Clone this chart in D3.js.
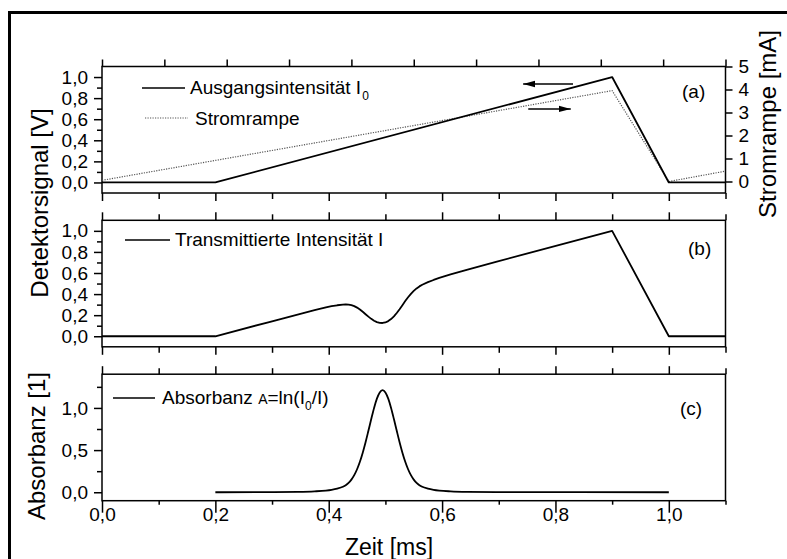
<!DOCTYPE html>
<html>
<head>
<meta charset="utf-8">
<script src="https://cdn.jsdelivr.net/npm/d3@7"></script>
<style>
  body { margin: 0; background: #fff; }
  svg { display: block; font-family: "Liberation Sans", Arial, sans-serif; }
  .frame { fill: none; stroke: #000; stroke-width: 1.5; }
  .tick line { stroke: #000; stroke-width: 1.5; }
  .tick text { font-size: 19px; fill: #000; }
  .curve { fill: none; stroke: #000; stroke-width: 1.8; stroke-linejoin: round; }
  .rampe { fill: none; stroke: #555; stroke-width: 1.2; stroke-dasharray: 1.2,1.3; }
  .lbl { font-size: 19px; fill: #000; }
  .title { font-size: 24px; fill: #000; }
</style>
</head>
<body>
<svg width="787" height="559"></svg>
<script>

// (a) Ausgangsintensität I0 [V] and Stromrampe [mA] over Zeit [ms]
var tI0 = [0, 0.2, 0.9, 1.0, 1.1];
var vI0 = [0, 0, 1.0, 0, 0];
var tRampe = [0, 0.9, 1.0, 1.1];
var vRampe = [0.05, 3.95, 0, 0.45];

// (b) Transmittierte Intensität I [V]
var tTrans = [0, 0.2, 0.295, 0.345, 0.375, 0.395, 0.405, 0.415, 0.425, 0.43, 0.435, 0.44, 0.445,
              0.45, 0.455, 0.46, 0.465, 0.47, 0.475, 0.48, 0.485, 0.49, 0.495, 0.50, 0.505, 0.51,
              0.515, 0.52, 0.525, 0.53, 0.535, 0.54, 0.545, 0.55, 0.555, 0.56, 0.565, 0.575, 0.585,
              0.595, 0.615, 0.645, 0.695, 0.9, 1.0, 1.1];
var vTrans = [0, 0, 0.135, 0.206, 0.247, 0.273, 0.285, 0.294, 0.301, 0.302, 0.300, 0.295, 0.286,
              0.272, 0.254, 0.232, 0.209, 0.186, 0.165, 0.147, 0.134, 0.127, 0.126, 0.131, 0.144, 0.163,
              0.189, 0.221, 0.257, 0.295, 0.334, 0.370, 0.402, 0.430, 0.454, 0.473, 0.489, 0.513, 0.534,
              0.553, 0.586, 0.633, 0.706, 1.0, 0, 0];

// (c) Absorbanz A = ln(I0/I)
var tAbs = [0.2, 0.295, 0.345, 0.375, 0.395, 0.405, 0.415, 0.425, 0.43, 0.435, 0.44, 0.445,
            0.45, 0.455, 0.46, 0.465, 0.47, 0.475, 0.48, 0.485, 0.49, 0.495, 0.50, 0.505, 0.51,
            0.515, 0.52, 0.525, 0.53, 0.535, 0.54, 0.545, 0.55, 0.555, 0.56, 0.565, 0.575, 0.585,
            0.595, 0.615, 0.645, 0.695, 1.0];
var vAbs = [0, 0.002, 0.005, 0.011, 0.02, 0.029, 0.043, 0.065, 0.084, 0.111, 0.150, 0.203,
            0.273, 0.361, 0.469, 0.593, 0.729, 0.868, 1.0, 1.11, 1.184, 1.21, 1.184, 1.11, 1.0,
            0.868, 0.729, 0.593, 0.469, 0.361, 0.273, 0.203, 0.150, 0.111, 0.084, 0.065, 0.043, 0.029,
            0.02, 0.011, 0.005, 0.002, 0];

// tick values
var zeitTicks = [0, 0.2, 0.4, 0.6, 0.8, 1.0];
var zeitMinor = [0.1, 0.3, 0.5, 0.7, 0.9, 1.1];
var detTicks = [0, 0.2, 0.4, 0.6, 0.8, 1.0];
var detMinor = [0.1, 0.3, 0.5, 0.7, 0.9];
var rampeTicks = [0, 1, 2, 3, 4, 5];
var absTicks = [0, 0.5, 1.0];
var absMinor = [0.25, 0.75, 1.25];

var svg = d3.select("svg"),
    left = 102, right = 725.5, ph = 126.5,
    tops = [66.5, 220.3, 374.2];

var comma = function(d) { return d3.format(".1f")(d).replace(".", ","); };

var x = d3.scaleLinear().domain([0, 1.1]).range([left, right]);
var yA = d3.scaleLinear().domain([-0.1, 1.1]).range([tops[0] + ph, tops[0]]);
var yB = d3.scaleLinear().domain([-0.1, 1.1]).range([tops[1] + ph, tops[1]]);
var yC = d3.scaleLinear().domain([-0.1, 1.4]).range([tops[2] + ph, tops[2]]);
var yR = d3.scaleLinear().domain([-0.5, 5]).range([tops[0] + ph, tops[0]]);
// top edge of (a) is split into ten equal parts
var xTop = d3.scaleLinear().domain([0, 10]).range([left, right]);

// outer frame
svg.append("rect")
    .attr("x", 9.5).attr("y", 12.5)
    .attr("width", 820).attr("height", 620)
    .attr("fill", "none").attr("stroke", "#000").attr("stroke-width", 3);

function axis(gen, tx, ty) {
  var g = svg.append("g")
      .attr("transform", "translate(" + tx + "," + ty + ")")
      .call(gen)
      .attr("font-size", null).attr("font-family", null);
  g.select(".domain").remove();
  return g;
}

var bottoms = tops.map(function(t) { return t + ph; });

// x ticks on every panel edge
[0, 1, 2].forEach(function(i) {
  if (i > 0) {
    axis(d3.axisTop(x).tickValues(zeitTicks).tickSize(8).tickFormat(""), 0, tops[i]);
    axis(d3.axisTop(x).tickValues(zeitMinor).tickSize(6).tickFormat(""), 0, tops[i]);
  }
  if (i < 2) {
    axis(d3.axisBottom(x).tickValues(zeitTicks).tickSize(8).tickFormat(""), 0, bottoms[i]);
    axis(d3.axisBottom(x).tickValues(zeitMinor).tickSize(6).tickFormat(""), 0, bottoms[i]);
  }
});
axis(d3.axisTop(xTop).tickValues(d3.range(0, 11)).tickSize(7).tickFormat(""), 0, tops[0]);
axis(d3.axisBottom(x).tickValues(zeitTicks).tickSize(12).tickPadding(-5.5).tickFormat(comma), 0, bottoms[2]);
axis(d3.axisBottom(x).tickValues(zeitMinor).tickSize(4).tickFormat(""), 0, bottoms[2]);

// y axes
axis(d3.axisLeft(yA).tickValues(detTicks).tickSize(8).tickPadding(6).tickFormat(comma), left, 0);
axis(d3.axisLeft(yA).tickValues(detMinor).tickSize(5).tickFormat(""), left, 0);
axis(d3.axisLeft(yB).tickValues(detTicks).tickSize(8).tickPadding(6).tickFormat(comma), left, 0);
axis(d3.axisLeft(yB).tickValues(detMinor).tickSize(5).tickFormat(""), left, 0);
axis(d3.axisLeft(yC).tickValues(absTicks).tickSize(8).tickPadding(6).tickFormat(comma), left, 0);
axis(d3.axisLeft(yC).tickValues(absMinor).tickSize(5).tickFormat(""), left, 0);
axis(d3.axisRight(yR).tickValues(rampeTicks).tickSize(7).tickPadding(6).tickFormat(d3.format("d")), right, 0);

// panel frames
tops.forEach(function(t) {
  svg.append("rect").attr("class", "frame")
      .attr("x", left).attr("y", t)
      .attr("width", right - left).attr("height", ph);
});

function pairs(ts, vs) { return ts.map(function(t, i) { return [t, vs[i]]; }); }

function line(y) {
  return d3.line().x(function(d) { return x(d[0]); }).y(function(d) { return y(d[1]); });
}

svg.append("path").attr("class", "rampe").attr("d", line(yR)(pairs(tRampe, vRampe)));
svg.append("path").attr("class", "curve").attr("d", line(yA)(pairs(tI0, vI0)));
svg.append("path").attr("class", "curve").attr("d", line(yB)(pairs(tTrans, vTrans)));
svg.append("path").attr("class", "curve")
    .attr("d", line(yC).curve(d3.curveMonotoneX)(pairs(tAbs, vAbs)));

// arrows pointing to the matching axis
svg.append("defs").append("marker")
    .attr("id", "head").attr("markerUnits", "userSpaceOnUse")
    .attr("viewBox", "0 0 12 8").attr("refX", 12).attr("refY", 4)
    .attr("markerWidth", 12).attr("markerHeight", 8).attr("orient", "auto")
  .append("path").attr("d", "M0,0.8L12,4L0,7.2Z").attr("fill", "#000");

[[0.831, 0.743, 0.934], [0.752, 0.827, 0.697]].forEach(function(a) {
  svg.append("line")
      .attr("x1", x(a[0])).attr("x2", x(a[1]))
      .attr("y1", yA(a[2])).attr("y2", yA(a[2]))
      .attr("stroke", "#000").attr("stroke-width", 1.5)
      .attr("marker-end", "url(#head)");
});

// legends
svg.append("line").attr("x1", 142).attr("x2", 185).attr("y1", 88).attr("y2", 88)
    .attr("stroke", "#000").attr("stroke-width", 1.5);
var l1 = svg.append("text").attr("class", "lbl").attr("x", 190).attr("y", 94);
l1.append("tspan").text("Ausgangsintensität I");
l1.append("tspan").attr("dy", 6).attr("dx", 1).attr("font-size", 12).text("0");

svg.append("line").attr("x1", 145).attr("x2", 188).attr("y1", 118).attr("y2", 118)
    .attr("class", "rampe");
svg.append("text").attr("class", "lbl").attr("x", 195).attr("y", 125).text("Stromrampe");

svg.append("line").attr("x1", 125).attr("x2", 170).attr("y1", 240).attr("y2", 240)
    .attr("stroke", "#000").attr("stroke-width", 1.5);
svg.append("text").attr("class", "lbl").attr("x", 175).attr("y", 246).text("Transmittierte Intensität I");

svg.append("line").attr("x1", 113).attr("x2", 155).attr("y1", 398).attr("y2", 398)
    .attr("stroke", "#000").attr("stroke-width", 1.5);
var l3 = svg.append("text").attr("class", "lbl").attr("x", 162).attr("y", 404);
l3.append("tspan").text("Absorbanz ");
l3.append("tspan").attr("font-size", 14).text("A");
l3.append("tspan").text("=ln(I");
l3.append("tspan").attr("dy", 6).attr("font-size", 12).text("0");
l3.append("tspan").attr("dy", -6).text("/I)");

svg.append("text").attr("class", "lbl").attr("x", 682).attr("y", 98).text("(a)");
svg.append("text").attr("class", "lbl").attr("x", 688).attr("y", 255).text("(b)");
svg.append("text").attr("class", "lbl").attr("x", 680).attr("y", 415).text("(c)");

// axis titles
svg.append("text").attr("class", "title").attr("text-anchor", "middle")
    .attr("transform", "translate(48,203) rotate(-90)").text("Detektorsignal [V]");
svg.append("text").attr("class", "title").attr("text-anchor", "middle")
    .attr("transform", "translate(45,446) rotate(-90)").text("Absorbanz [1]");
svg.append("text").attr("class", "title").attr("text-anchor", "middle")
    .attr("transform", "translate(776,124) rotate(-90)").text("Stromrampe [mA]");
svg.append("text").attr("class", "title").attr("text-anchor", "middle")
    .attr("x", 389).attr("y", 555).style("font-size", "23px").text("Zeit [ms]");

</script>
</body>
</html>
